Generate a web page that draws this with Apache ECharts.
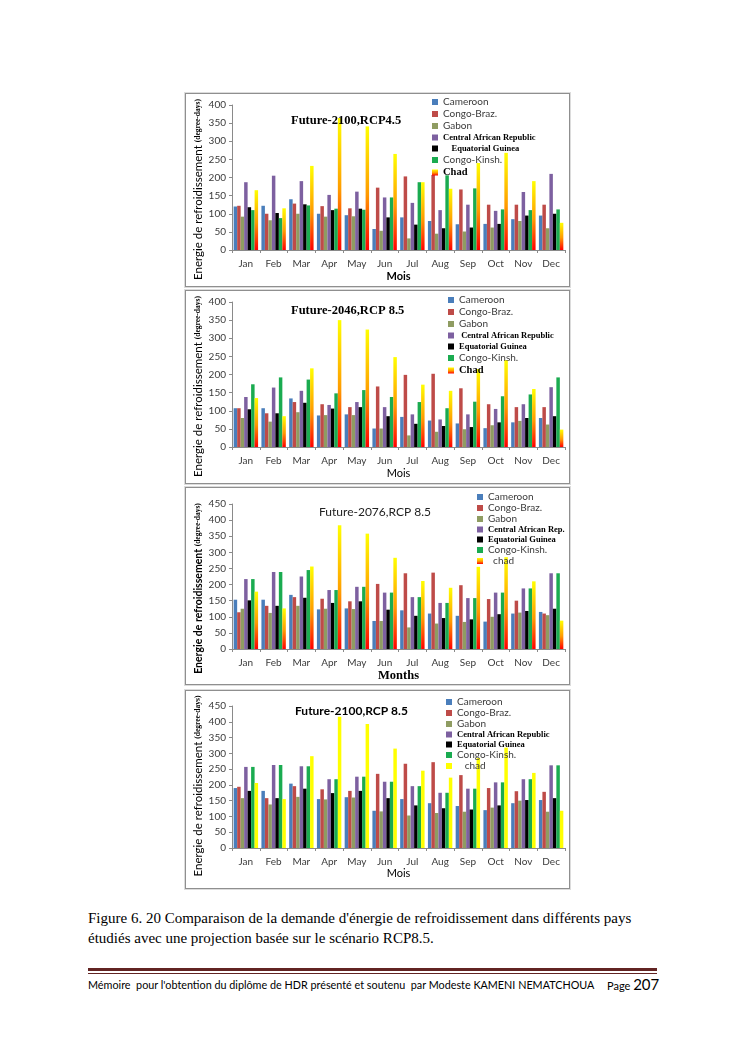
<!DOCTYPE html>
<html>
<head>
<meta charset="utf-8">
<script src="https://cdn.jsdelivr.net/npm/echarts@6/dist/echarts.min.js"></script>
<style>
  html, body { margin: 0; padding: 0; background: #fff; }
  #page { position: relative; width: 745px; height: 1053px; overflow: hidden; background: #fff; }
  .box { position: absolute; left: 185px; width: 383px; border: 1px solid #8f8f8f; box-shadow: 0 0 0 1px #dcdcdc; background: #fff; }
  .caption { position: absolute; left: 88px; top: 908px; width: 600px; font-family: "Liberation Serif", serif; font-size: 15px; line-height: 20px; color: #000; }
  .rule1 { position: absolute; left: 88px; top: 968px; width: 569px; height: 3px; background: #622423; }
  .rule2 { position: absolute; left: 88px; top: 973px; width: 569px; height: 1px; background: #622423; }
  .foot { position: absolute; left: 88px; top: 978px; font-family: Lato, sans-serif; font-size: 10.8px; color: #000; white-space: nowrap; }
  .page { position: absolute; left: 607px; top: 975px; font-family: Lato, sans-serif; font-size: 11px; color: #000; white-space: nowrap; }
  .page b { font-weight: normal; font-size: 15px; }
</style>
</head>
<body>
<div id="page">
  <div class="box" id="c1" style="top:93px;height:192px;"></div>
  <div class="box" id="c2" style="top:290px;height:192px;"></div>
  <div class="box" id="c3" style="top:487px;height:196px;"></div>
  <div class="box" id="c4" style="top:690px;height:197px;"></div>
  <div class="caption">Figure 6. 20 Comparaison de la demande d'énergie de refroidissement dans différents pays<br>étudiés avec une projection basée sur le scénario RCP8.5.</div>
  <div class="rule1"></div>
  <div class="rule2"></div>
  <div class="foot">Mémoire&nbsp; pour l'obtention du diplôme de HDR présenté et soutenu&nbsp; par Modeste KAMENI NEMATCHOUA</div>
  <div class="page">Page <b>207</b></div>
</div>
<script>
// ---------- data ----------
const months = ['Jan','Feb','Mar','Apr','May','Jun','Jul','Aug','Sep','Oct','Nov','Dec'];

// Chart 1: Future-2100, RCP4.5
const c1Cameroon = [120,122,140,100, 96, 58, 90, 80, 71, 72, 85, 95];
const c1CongoBraz = [122,100,128,121,115,172,203,207,167,125,125,125];
const c1Gabon     = [ 92, 82,100, 92, 93, 53, 32, 45, 51, 62, 80, 60];
const c1CAR       = [187,205,190,152,161,145,130,110,125,108,160,210];
const c1EqGuinea  = [118,102,126,110,114, 90, 70, 60, 62, 72, 95,100];
const c1CongoKin  = [110, 88,123,114,111,145,187,206,170,112,110,112];
const c1Chad      = [165,115,232,364,341,265,187,169,240,268,190, 75];

// Chart 2: Future-2046, RCP 8.5
const c2Cameroon = [107,107,134, 87, 90, 51, 83, 73, 65, 52, 68, 80];
const c2CongoBraz = [107, 93,124,118,110,167,199,202,162,118,110,110];
const c2Gabon     = [ 80, 70, 96, 88, 88, 51, 32, 42, 49, 60, 72, 62];
const c2CAR       = [138,164,155,116,124,110, 90, 76, 90,105,118,165];
const c2EqGuinea  = [104, 93,122,106,110, 85, 64, 58, 55, 68, 80, 85];
const c2CongoKin  = [173,192,186,148,157,138,124,107,125,140,145,192];
const c2Chad      = [135, 85,217,350,324,248,172,155,215,240,160, 48];

// Chart 3: Future-2076, RCP 8.5
const c3Cameroon = [153,153,168,123,126, 87,120,110,103, 85,110,115];
const c3CongoBraz = [114,134,161,156,148,202,235,237,198,155,150,110];
const c3Gabon     = [125,112,134,125,124, 87, 67, 79, 84,100,113,105];
const c3CAR       = [217,239,225,183,193,175,161,143,158,175,188,235];
const c3EqGuinea  = [151,134,159,143,148,122,103, 96, 92,108,118,125];
const c3CongoKin  = [217,239,245,183,193,175,161,143,158,175,188,235];
const c3Chad      = [178,126,256,384,358,283,211,190,255,285,210, 88];

// Chart 4: Future-2100, RCP 8.5
const c4Cameroon = [190,181,204,155,161,118,155,142,133,120,142,152];
const c4CongoBraz = [194,158,196,186,181,235,267,272,231,190,180,178];
const c4Gabon     = [158,138,162,154,160,116,103,111,115,128,150,115];
const c4CAR       = [257,263,259,218,226,210,196,175,188,208,218,262];
const c4EqGuinea  = [181,158,188,174,181,158,135,126,122,135,152,158];
const c4CongoKin  = [257,263,259,218,226,210,196,175,188,208,218,262];
const c4Chad      = [206,155,291,416,393,315,245,223,285,318,238,118];

// ---------- styling ----------
const COL = {
  cam: '#4A7EBB', con: '#BE4B48', gab: '#8F9C62', car: '#7D60A0',
  eqg: '#000000', ck: '#1AAB50'
};
function chadGrad() {
  return new echarts.graphic.LinearGradient(0, 0, 0, 1, [
    { offset: 0, color: '#FFFF00' },
    { offset: 0.55, color: '#FF9A00' },
    { offset: 1, color: '#FF0000' }
  ]);
}
const rich = {
  s: { fontFamily: 'Lato, sans-serif', fontSize: 10, color: '#3a3a3a', lineHeight: 11 },
  b: { fontFamily: '"Liberation Serif", serif', fontWeight: 'bold', fontSize: 8.5, color: '#000', lineHeight: 11 },
  c: { fontFamily: '"Liberation Serif", serif', fontWeight: 'bold', fontSize: 10.5, color: '#000', lineHeight: 11 }
};

function makeChart(id, cfg) {
  const chart = echarts.init(document.getElementById(id), null, { renderer: 'canvas' });
  const keys = ['cam','con','gab','car','eqg','ck','chad'];
  const series = cfg.data.map((arr, i) => ({
    name: cfg.names[i],
    type: 'bar',
    data: arr,
    barGap: '0%',
    barCategoryGap: '12%',
    itemStyle: { color: keys[i] === 'chad' ? cfg.chadColor() : COL[keys[i]] }
  }));
  const styleOf = {};
  cfg.names.forEach((n, i) => { styleOf[n] = cfg.legendStyle[i]; });
  chart.setOption({
    animation: false,
    title: {
      text: cfg.title, left: cfg.titleLeft, top: cfg.titleTop, padding: 0,
      textStyle: cfg.titleStyle
    },
    legend: {
      orient: 'vertical', left: cfg.legendLeft, top: cfg.legendTop, padding: 0,
      itemWidth: 6, itemHeight: 6, itemGap: cfg.legendGap, icon: 'rect', selectedMode: false,
      data: cfg.names,
      formatter: function (n) { const st = styleOf[n]; return '{' + st[0] + '|' + st[1] + '}'; },
      textStyle: { rich: rich, padding: [0, 0, 0, 0] }
    },
    grid: { left: 46, right: 4, top: cfg.gridTop, bottom: cfg.gridBottom, containLabel: false, outerBoundsMode: 'none' },
    xAxis: {
      type: 'category', data: months,
      axisLine: { lineStyle: { color: '#8a8a8a' } },
      axisTick: { show: true, length: 3, lineStyle: { color: '#8a8a8a' } },
      axisLabel: { fontFamily: 'Lato, sans-serif', fontSize: 10, color: '#3a3a3a', margin: 9 },
      name: cfg.xName, nameLocation: 'middle', nameGap: cfg.xNameGap, nameMoveOverlap: false,
      nameTextStyle: cfg.xNameStyle
    },
    yAxis: {
      type: 'value', min: 0, max: cfg.max, interval: 50,
      splitLine: { show: false },
      axisLine: { show: true, lineStyle: { color: '#8a8a8a' } },
      axisTick: { show: true, length: 3, lineStyle: { color: '#8a8a8a' } },
      axisLabel: { fontFamily: 'Lato, sans-serif', fontSize: 10, color: '#3a3a3a', margin: 6 },
      name: '{n|Energie de refroidissement }{d|(degree-days)}',
      nameLocation: 'middle', nameGap: 28, nameRotate: 90, nameMoveOverlap: false,
      nameTextStyle: {
        padding: [0, cfg.yNameShift, 0, 0],
        rich: {
          n: cfg.yNameStyle,
          d: { fontFamily: '"Liberation Serif", serif', fontWeight: 'bold', fontSize: 7.5, color: '#000' }
        }
      }
    },
    series: series
  });
}

const namesA = ['Cameroon','Congo-Braz.','Gabon','Central African Republic','Equatorial Guinea','Congo-Kinsh.','Chad'];

makeChart('c1', {
  title: 'Future-2100,RCP4.5', titleLeft: 105, titleTop: 20,
  titleStyle: { fontFamily: '"Liberation Serif", serif', fontWeight: 'bold', fontSize: 12.5, color: '#000' },
  max: 400, gridTop: 11, gridBottom: 36,
  data: [c1Cameroon, c1CongoBraz, c1Gabon, c1CAR, c1EqGuinea, c1CongoKin, c1Chad],
  names: namesA,
  legendStyle: [['s','Cameroon'],['s','Congo-Braz.'],['s','Gabon'],['b','Central African Republic'],['b','    Equatorial Guinea'],['s','Congo-Kinsh.'],['c','Chad']],
  legendLeft: 246, legendTop: 3, legendGap: 2,
  xName: 'Mois', xNameGap: 21,
  xNameStyle: { fontFamily: 'Lato, sans-serif', fontWeight: 'bold', fontSize: 11, color: '#000' },
  yNameStyle: { fontFamily: 'Lato, sans-serif', fontSize: 11.5, color: '#000' },
  yNameShift: 24,
  chadColor: chadGrad
});

makeChart('c2', {
  title: 'Future-2046,RCP 8.5', titleLeft: 105, titleTop: 13,
  titleStyle: { fontFamily: '"Liberation Serif", serif', fontWeight: 'bold', fontSize: 12.5, color: '#000' },
  max: 400, gridTop: 11, gridBottom: 36,
  data: [c2Cameroon, c2CongoBraz, c2Gabon, c2CAR, c2EqGuinea, c2CongoKin, c2Chad],
  names: namesA,
  legendStyle: [['s','Cameroon'],['s','Congo-Braz.'],['s','Gabon'],['b',' Central African Republic'],['b','Equatorial Guinea'],['s','Congo-Kinsh.'],['c','Chad']],
  legendLeft: 262, legendTop: 4, legendGap: 2,
  xName: 'Mois', xNameGap: 21,
  xNameStyle: { fontFamily: 'Lato, sans-serif', fontSize: 11, color: '#000' },
  yNameStyle: { fontFamily: 'Lato, sans-serif', fontSize: 11.5, color: '#000' },
  yNameShift: 24,
  chadColor: chadGrad
});

makeChart('c3', {
  title: 'Future-2076,RCP 8.5', titleLeft: 133, titleTop: 18,
  titleStyle: { fontFamily: 'Lato, sans-serif', fontWeight: 'normal', fontSize: 12, color: '#222' },
  max: 450, gridTop: 16, gridBottom: 35,
  data: [c3Cameroon, c3CongoBraz, c3Gabon, c3CAR, c3EqGuinea, c3CongoKin, c3Chad],
  names: ['Cameroon','Congo-Braz.','Gabon','Central African Rep.','Equatorial Guinea','Congo-Kinsh.','chad'],
  legendStyle: [['s','Cameroon'],['s','Congo-Braz.'],['s','Gabon'],['b','Central African Rep.'],['b','Equatorial Guinea'],['s','Congo-Kinsh.'],['s','  chad']],
  legendLeft: 291, legendTop: 4, legendGap: 1,
  xName: 'Months', xNameGap: 20,
  xNameStyle: { fontFamily: '"Liberation Serif", serif', fontWeight: 'bold', fontSize: 12.5, color: '#000' },
  yNameStyle: { fontFamily: 'Lato, sans-serif', fontWeight: 'bold', fontSize: 10.5, color: '#000' },
  yNameShift: 24,
  chadColor: chadGrad
});

makeChart('c4', {
  title: 'Future-2100,RCP 8.5', titleLeft: 109, titleTop: 14,
  titleStyle: { fontFamily: 'Lato, sans-serif', fontWeight: 'bold', fontSize: 12, color: '#000' },
  max: 450, gridTop: 15, gridBottom: 40,
  data: [c4Cameroon, c4CongoBraz, c4Gabon, c4CAR, c4EqGuinea, c4CongoKin, c4Chad],
  names: ['Cameroon','Congo-Braz.','Gabon','Central African Republic','Equatorial Guinea','Congo-Kinsh.','chad'],
  legendStyle: [['s','Cameroon'],['s','Congo-Braz.'],['s','Gabon'],['b','Central African Republic'],['b','Equatorial Guinea'],['s','Congo-Kinsh.'],['s','   chad']],
  legendLeft: 260, legendTop: 6, legendGap: 1,
  xName: 'Mois', xNameGap: 20,
  xNameStyle: { fontFamily: 'Lato, sans-serif', fontSize: 11, color: '#000' },
  yNameStyle: { fontFamily: 'Lato, sans-serif', fontSize: 11.5, color: '#000' },
  yNameShift: 18,
  chadColor: function () { return '#FFFF00'; }
});
</script>
</body>
</html>
